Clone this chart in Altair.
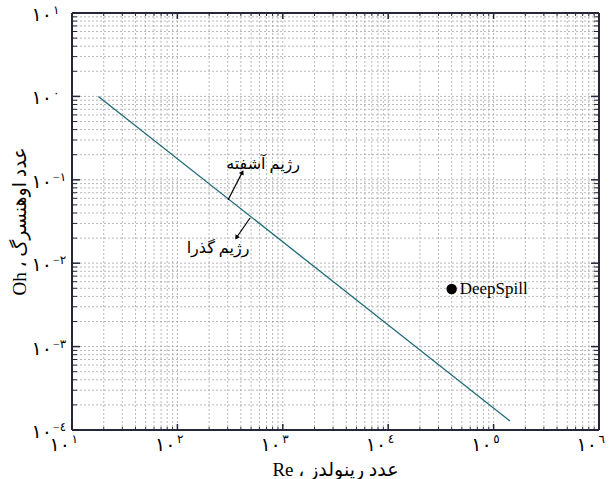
import altair as alt
import pandas as pd

W, H = 527, 417
FONT = "Liberation Serif, Times New Roman, DejaVu Sans"

# ---- data ----
line_re = [17.8, 1.43e5]
line_oh = [1.0, 1.28e-4]

point_re = [4.0e4]
point_oh = [4.9e-3]
point_label = ["DeepSpill"]

ann_text = ["رژیم آشفته", "رژیم گذرا"]
ann_text_re = [650, 243]
ann_text_oh = [0.155, 0.0152]
arrow_from_re = [302, 489]
arrow_from_oh = [0.0573, 0.0348]
arrow_to_re = [410, 367]
arrow_to_oh = [0.121, 0.0206]
arrow_angle = [27, 214]

x_exponents = [1, 2, 3, 4, 5, 6]
x_exp_labels = ["١", "٢", "٣", "٤", "٥", "٦"]
y_exponents = [-4, -3, -2, -1, 0, 1]
y_exp_labels = ["−٤", "−٣", "−٢", "−١", "٠", "١"]
base_label = "١٠"
mantissas = [2, 3, 4, 5, 6, 7, 8, 9]

x_title = "Re ، عدد رینولدز"
y_title = "Oh ، عدد اوهنسرگ"

x_major = [10.0 ** e for e in x_exponents]
y_major = [10.0 ** e for e in y_exponents]
x_minor = [m * 10.0 ** e for e in x_exponents[:-1] for m in mantissas]
y_minor = [m * 10.0 ** e for e in y_exponents[:-1] for m in mantissas]
x_edges = [10.0, 1e6]
y_edges = [1e-4, 10.0]

xs = alt.Scale(type="log", domain=[10, 1e6], nice=False)
ys = alt.Scale(type="log", domain=[1e-4, 10], nice=False)

line_df = pd.DataFrame({"Re": line_re, "Oh": line_oh})
pt_df = pd.DataFrame({"Re": point_re, "Oh": point_oh, "label": point_label})
ann_df = pd.DataFrame({"Re": ann_text_re, "Oh": ann_text_oh, "t": ann_text})
arr_df = pd.DataFrame({"Re": arrow_from_re, "Oh": arrow_from_oh,
                       "Re2": arrow_to_re, "Oh2": arrow_to_oh, "ang": arrow_angle})
xlab_df = pd.DataFrame({"Re": x_major, "b": [base_label] * 6, "e": x_exp_labels})
ylab_df = pd.DataFrame({"Oh": y_major, "b": [base_label] * 6, "e": y_exp_labels})

X = lambda f="Re": alt.X(f"{f}:Q", scale=xs, axis=None)
Y = lambda f="Oh": alt.Y(f"{f}:Q", scale=ys, axis=None)

DARK = "#26263a"
layers = []

# grid lines (dashed)
layers += [
    alt.Chart(pd.DataFrame({"Re": x_major + x_minor})).mark_rule(
        color="#9a9a9a", strokeWidth=0.7, strokeDash=[2, 2]).encode(
        x=X(), y=alt.value(0), y2=alt.value(H)),
    alt.Chart(pd.DataFrame({"Oh": y_major + y_minor})).mark_rule(
        color="#9a9a9a", strokeWidth=0.7, strokeDash=[2, 2]).encode(
        y=Y(), x=alt.value(0), x2=alt.value(W)),
]

# frame
layers += [
    alt.Chart(pd.DataFrame({"Re": x_edges})).mark_rule(color=DARK, strokeWidth=2, strokeDash=[4, 0]).encode(
        x=X(), y=alt.value(0), y2=alt.value(H)),
    alt.Chart(pd.DataFrame({"Oh": y_edges})).mark_rule(color=DARK, strokeWidth=2).encode(
        y=Y(), x=alt.value(0), x2=alt.value(W)),
]

# inside ticks
def xticks(vals, y0, y1, w):
    return alt.Chart(pd.DataFrame({"Re": vals})).mark_rule(color=DARK, strokeWidth=w).encode(
        x=X(), y=alt.value(y0), y2=alt.value(y1))

def yticks(vals, x0, x1, w):
    return alt.Chart(pd.DataFrame({"Oh": vals})).mark_rule(color=DARK, strokeWidth=w).encode(
        y=Y(), x=alt.value(x0), x2=alt.value(x1))

layers += [
    xticks(x_minor, H, H - 3, 1), xticks(x_major, H, H - 6, 1.5),
    xticks(x_minor, 0, 3, 1), xticks(x_major, 0, 6, 1.5),
    yticks(y_minor, 0, 5, 1), yticks(y_major, 0, 8, 1.5),
    yticks(y_minor, W, W - 5, 1), yticks(y_major, W, W - 8, 1.5),
]

# main line
layers.append(
    alt.Chart(line_df).mark_line(color="#1f6a78", strokeWidth=1.3).encode(x=X(), y=Y())
)

# tick labels
layers += [
    alt.Chart(xlab_df).mark_text(font=FONT, fontSize=19, align="right", baseline="middle", dx=-2).encode(
        x=X(), y=alt.value(H + 15), text="b:N"),
    alt.Chart(xlab_df).mark_text(font=FONT, fontSize=12, align="right", baseline="middle", dx=6).encode(
        x=X(), y=alt.value(H + 9), text="e:N"),
    alt.Chart(ylab_df).mark_text(font=FONT, fontSize=19, align="right", baseline="middle", dy=2).encode(
        y=Y(), x=alt.value(-20), text="b:N"),
    alt.Chart(ylab_df).mark_text(font=FONT, fontSize=12, align="left", baseline="middle", dy=-3).encode(
        y=Y(), x=alt.value(-19), text="e:N"),
]

# axis titles
layers += [
    alt.Chart(pd.DataFrame({"t": [x_title]})).mark_text(
        font=FONT, fontSize=19, align="center", baseline="middle").encode(
        x=alt.value(W / 2), y=alt.value(H + 40), text="t:N"),
    alt.Chart(pd.DataFrame({"t": [y_title]})).mark_text(
        font=FONT, fontSize=19, align="center", baseline="middle", angle=270).encode(
        x=alt.value(-52), y=alt.value(H / 2), text="t:N"),
]

# annotations
layers += [
    alt.Chart(arr_df).mark_rule(color="black", strokeWidth=1.2).encode(
        x=X(), y=Y(), x2="Re2:Q", y2="Oh2:Q"),
    alt.Chart(arr_df).mark_point(shape="triangle", filled=True, color="black", size=28, opacity=1).encode(
        x=X("Re2"), y=Y("Oh2"), angle=alt.Angle("ang:Q", scale=None)),
    alt.Chart(ann_df).mark_text(font=FONT, fontSize=16, align="center", baseline="middle").encode(
        x=X(), y=Y(), text="t:N"),
    alt.Chart(pt_df).mark_point(filled=True, color="black", size=110, opacity=1).encode(x=X(), y=Y()),
    alt.Chart(pt_df).mark_text(font=FONT, fontSize=17, align="left", baseline="middle", dx=8).encode(
        x=X(), y=Y(), text="label:N"),
]

chart = alt.layer(*layers).properties(
    width=W, height=H,
    autosize=alt.AutoSizeParams(type="none"),
    padding={"left": 72, "top": 13, "right": 12, "bottom": 49},
    background="white",
).configure_view(stroke=None)

chart.save("out.html", embed_options={"renderer": "svg", "actions": False})
